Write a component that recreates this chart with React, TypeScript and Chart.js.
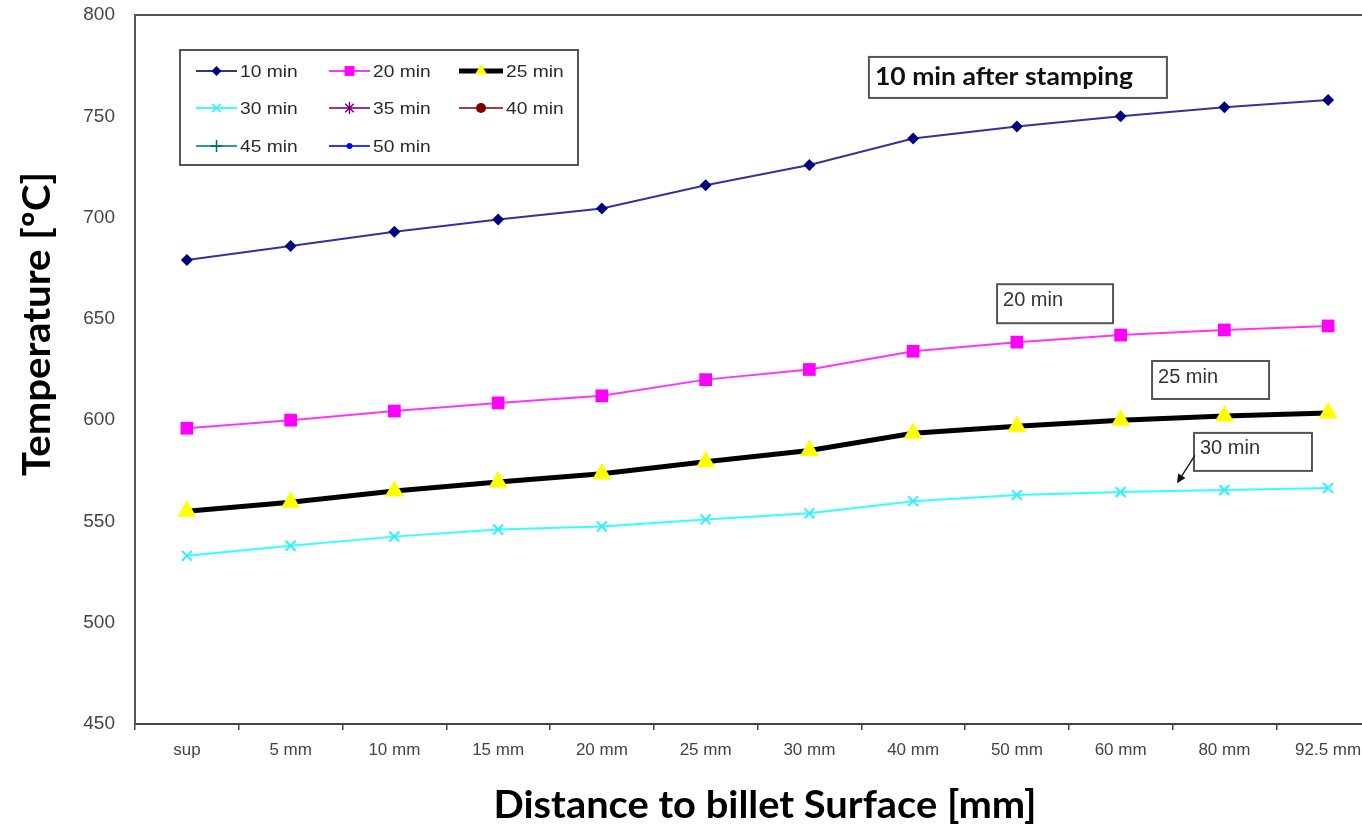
import React, { useEffect, useRef } from "react";
import { Chart, registerables } from "chart.js";

Chart.register(...registerables);

// ---------- data ----------
const categories = ["sup", "5 mm", "10 mm", "15 mm", "20 mm", "25 mm", "30 mm", "40 mm", "50 mm", "60 mm", "80 mm", "92.5 mm"];
const seriesNames = ["10 min", "20 min", "25 min", "30 min", "35 min", "40 min", "45 min", "50 min"];
const t10 = [679, 686, 693, 699, 704.5, 716, 726, 739, 745, 750, 754.5, 758];
const t20 = [596, 600, 604.5, 608.5, 612, 620, 625, 634, 638.5, 642, 644.5, 646.5];
const t25 = [555, 559.5, 565, 569.5, 573.5, 579.5, 585, 593.5, 597, 600, 602, 603.5];
const t30 = [533, 538, 542.5, 546, 547.5, 551, 554, 560, 563, 564.5, 565.5, 566.5];
const t35: number[] = [];
const t40: number[] = [];
const t45: number[] = [];
const t50: number[] = [];
const yMin = 450;
const yMax = 800;
const yStep = 50;

const xTitle = "Distance to billet Surface [mm]";
const yTitle = "Temperature [ºC]";
const mainNote = "10 min after stamping";
const noteLabels = ["20 min", "25 min", "30 min"];

const SANS = "'Liberation Sans', Arial, sans-serif";
const TITLE_FONT = "Lato, 'Open Sans', sans-serif";

type Marker = { style: string; fill: string; stroke: string };

function drawMarker(ctx: CanvasRenderingContext2D, m: Marker, x: number, y: number, r: number) {
  ctx.save();
  ctx.fillStyle = m.fill;
  ctx.strokeStyle = m.stroke;
  ctx.lineWidth = 1.5;
  ctx.beginPath();
  const s = r * Math.SQRT1_2;
  switch (m.style) {
    case "rectRot":
      ctx.moveTo(x, y - r);
      ctx.lineTo(x + r, y);
      ctx.lineTo(x, y + r);
      ctx.lineTo(x - r, y);
      ctx.closePath();
      ctx.fill();
      break;
    case "rect":
      ctx.rect(x - s, y - s, 2 * s, 2 * s);
      ctx.fill();
      break;
    case "triangle":
      ctx.moveTo(x, y - r);
      ctx.lineTo(x + r * 0.866, y + r / 2);
      ctx.lineTo(x - r * 0.866, y + r / 2);
      ctx.closePath();
      ctx.fill();
      break;
    case "crossRot":
      ctx.moveTo(x - s, y - s);
      ctx.lineTo(x + s, y + s);
      ctx.moveTo(x - s, y + s);
      ctx.lineTo(x + s, y - s);
      ctx.stroke();
      break;
    case "star":
      ctx.moveTo(x - s, y - s);
      ctx.lineTo(x + s, y + s);
      ctx.moveTo(x - s, y + s);
      ctx.lineTo(x + s, y - s);
      ctx.moveTo(x, y - r);
      ctx.lineTo(x, y + r);
      ctx.stroke();
      break;
    case "cross":
      ctx.moveTo(x, y - r);
      ctx.lineTo(x, y + r);
      ctx.moveTo(x - r, y);
      ctx.lineTo(x + r, y);
      ctx.stroke();
      break;
    default:
      ctx.arc(x, y, r, 0, Math.PI * 2);
      ctx.fill();
  }
  ctx.restore();
}

// draw text squeezed/stretched horizontally to a target width
function fitText(ctx: CanvasRenderingContext2D, text: string, x: number, y: number, targetW: number, align: CanvasTextAlign) {
  const w = ctx.measureText(text).width || 1;
  ctx.save();
  ctx.translate(x, y);
  ctx.scale(targetW / w, 1);
  ctx.textAlign = align;
  ctx.fillText(text, 0, 0);
  ctx.restore();
}

function scaledText(ctx: CanvasRenderingContext2D, text: string, x: number, y: number, sx: number) {
  ctx.save();
  ctx.translate(x, y);
  ctx.scale(sx, 1);
  ctx.textAlign = "left";
  ctx.fillText(text, 0, 0);
  ctx.restore();
}

const legendPlugin = {
  id: "boxLegend",
  afterDraw(chart: any) {
    const { ctx, chartArea } = chart;
    const bx = chartArea.left + 45;
    const by = chartArea.top + 35;
    const bw = 398;
    const bh = 115;
    ctx.save();
    ctx.fillStyle = "#ffffff";
    ctx.fillRect(bx, by, bw, bh);
    ctx.strokeStyle = "#555555";
    ctx.lineWidth = 2;
    ctx.strokeRect(bx, by, bw, bh);
    const colX = [16, 149, 279];
    const rowY = [21, 58, 96];
    chart.data.datasets.forEach((ds: any, i: number) => {
      const col = i % 3;
      const row = Math.floor(i / 3);
      const x0 = bx + colX[col];
      const y0 = by + rowY[row];
      const len = col === 2 ? 44 : 41;
      ctx.strokeStyle = ds.borderColor;
      ctx.lineWidth = ds.borderWidth;
      ctx.beginPath();
      ctx.moveTo(x0, y0);
      ctx.lineTo(x0 + len, y0);
      ctx.stroke();
      drawMarker(
        ctx,
        { style: ds.pointStyle, fill: ds.pointBackgroundColor, stroke: ds.pointBorderColor },
        x0 + len / 2,
        y0,
        ds.legendRadius
      );
      ctx.fillStyle = "#2a2a2a";
      ctx.font = `17px ${SANS}`;
      ctx.textBaseline = "middle";
      scaledText(ctx, ds.label, x0 + len + 3, y0 + 1, 1.13);
    });
    ctx.restore();
  },
};

const notes = [
  { text: mainNote, xi: 6.574, yv: 779.3, w: 298, h: 41, bold: true },
  { text: noteLabels[0], xi: 7.809, yv: 667.1, w: 116, h: 39, bold: false },
  { text: noteLabels[1], xi: 9.303, yv: 629.2, w: 117, h: 38, bold: false },
  { text: noteLabels[2], xi: 9.707, yv: 593.7, w: 118, h: 38, bold: false },
];
const arrowFrom = { xi: 9.716, yv: 582.6 };
const arrowTo = { xi: 9.543, yv: 568.8 };

const annotationPlugin = {
  id: "notes",
  afterDatasetsDraw(chart: any) {
    const { ctx, chartArea } = chart;
    const xs = chart.scales.x;
    const ys = chart.scales.y;
    ctx.save();
    // top frame line
    ctx.strokeStyle = "#555555";
    ctx.lineWidth = 2;
    ctx.beginPath();
    ctx.moveTo(chartArea.left - 1, chartArea.top);
    ctx.lineTo(chart.width, chartArea.top);
    ctx.stroke();

    notes.forEach((n) => {
      const x = xs.getPixelForValue(n.xi);
      const y = ys.getPixelForValue(n.yv);
      ctx.fillStyle = "#ffffff";
      ctx.fillRect(x, y, n.w, n.h);
      ctx.strokeStyle = "#555555";
      ctx.lineWidth = 2;
      ctx.strokeRect(x, y, n.w, n.h);
      if (n.bold) {
        ctx.fillStyle = "#111111";
        ctx.font = `bold 25px ${TITLE_FONT}`;
        ctx.textBaseline = "alphabetic";
        fitText(ctx, n.text, x + 6, y + 28, 258, "left");
      } else {
        ctx.fillStyle = "#333333";
        ctx.font = `20px ${SANS}`;
        ctx.textAlign = "left";
        ctx.textBaseline = "middle";
        ctx.fillText(n.text, x + 6, y + n.h / 2 - 3);
      }
    });

    // arrow for the 30 min note
    const ax0 = xs.getPixelForValue(arrowFrom.xi);
    const ay0 = ys.getPixelForValue(arrowFrom.yv);
    const ax1 = xs.getPixelForValue(arrowTo.xi);
    const ay1 = ys.getPixelForValue(arrowTo.yv);
    const ang = Math.atan2(ay1 - ay0, ax1 - ax0);
    ctx.strokeStyle = "#222222";
    ctx.lineWidth = 1.5;
    ctx.beginPath();
    ctx.moveTo(ax0, ay0);
    ctx.lineTo(ax1 - Math.cos(ang) * 6, ay1 - Math.sin(ang) * 6);
    ctx.stroke();
    ctx.fillStyle = "#111111";
    ctx.beginPath();
    ctx.moveTo(ax1, ay1);
    ctx.lineTo(ax1 - Math.cos(ang - 0.45) * 10, ay1 - Math.sin(ang - 0.45) * 10);
    ctx.lineTo(ax1 - Math.cos(ang + 0.45) * 10, ay1 - Math.sin(ang + 0.45) * 10);
    ctx.closePath();
    ctx.fill();
    ctx.restore();
  },
};

const axisTitlePlugin = {
  id: "axisTitles",
  afterDraw(chart: any) {
    const { ctx, chartArea } = chart;
    ctx.save();
    ctx.fillStyle = "#000000";
    ctx.font = `bold 38px ${TITLE_FONT}`;
    ctx.textBaseline = "alphabetic";
    fitText(ctx, xTitle, 765, chartArea.bottom + 94, 543, "center");
    ctx.translate(50, 324);
    ctx.rotate(-Math.PI / 2);
    fitText(ctx, yTitle, 0, 0, 304, "center");
    ctx.restore();
  },
};

export default function App() {
  const ref = useRef<HTMLCanvasElement | null>(null);

  useEffect(() => {
    if (!ref.current) return;
    const mk = (
      label: string,
      data: number[],
      color: string,
      width: number,
      style: string,
      radius: number,
      fill: string,
      legendRadius: number
    ) => ({
      label,
      data,
      borderColor: color,
      borderWidth: width,
      pointStyle: style,
      pointRadius: radius,
      pointBackgroundColor: fill,
      pointBorderColor: fill,
      pointBorderWidth: style === "crossRot" || style === "cross" || style === "star" ? 2 : 0,
      tension: 0,
      fill: false,
      legendRadius,
    });
    const chart = new Chart(ref.current, {
      type: "line",
      data: {
        labels: categories,
        datasets: [
          mk(seriesNames[0], t10, "#33339a", 2, "rectRot", 6, "#000080", 5),
          mk(seriesNames[1], t20, "#ff33ff", 2, "rect", 9, "#ff00ff", 7),
          mk(seriesNames[2], t25, "#000000", 5, "triangle", 11, "#ffff00", 7),
          mk(seriesNames[3], t30, "#33ffff", 2, "crossRot", 7, "#33eeff", 6),
          mk(seriesNames[4], t35, "#993399", 2, "star", 6, "#800080", 6),
          mk(seriesNames[5], t40, "#a04040", 2, "circle", 5, "#800000", 5),
          mk(seriesNames[6], t45, "#339999", 2, "cross", 6, "#006666", 6),
          mk(seriesNames[7], t50, "#3333ff", 2, "circle", 3, "#0000ff", 3),
        ] as any,
      },
      options: {
        animation: false,
        responsive: false,
        devicePixelRatio: 1,
        layout: { padding: { left: 0, top: 15, right: 20, bottom: 0 } },
        plugins: { legend: { display: false }, tooltip: { enabled: false } },
        scales: {
          x: {
            type: "category",
            offset: true,
            afterFit: (s: any) => {
              s.height = 104;
              s.paddingLeft = 0;
              s.paddingRight = 0;
            },
            grid: {
              display: true,
              drawOnChartArea: false,
              drawTicks: true,
              tickLength: 6,
              color: "#444444",
              lineWidth: 1.5,
              offset: true,
            },
            border: { display: true, color: "#444444", width: 2 },
            ticks: {
              color: "#444444",
              font: { family: SANS, size: 17 },
              padding: 10,
              maxRotation: 0,
              autoSkip: false,
            },
          },
          y: {
            min: yMin,
            max: yMax,
            afterFit: (s: any) => {
              s.width = 135;
              s.paddingTop = 0;
              s.paddingBottom = 0;
            },
            grid: { display: true, drawOnChartArea: false, drawTicks: false },
            border: { display: true, color: "#555555", width: 2 },
            ticks: {
              stepSize: yStep,
              color: "#444444",
              font: { family: SANS, size: 19 },
              padding: 20,
            },
          },
        },
      },
      plugins: [annotationPlugin, legendPlugin, axisTitlePlugin],
    });
    return () => chart.destroy();
  }, []);

  return (
    <div
      style={{
        position: "fixed",
        left: 0,
        top: 0,
        width: 1362,
        height: 828,
        overflow: "hidden",
        background: "#ffffff",
      }}
    >
      <canvas ref={ref} width={1400} height={828} style={{ display: "block" }} />
    </div>
  );
}
